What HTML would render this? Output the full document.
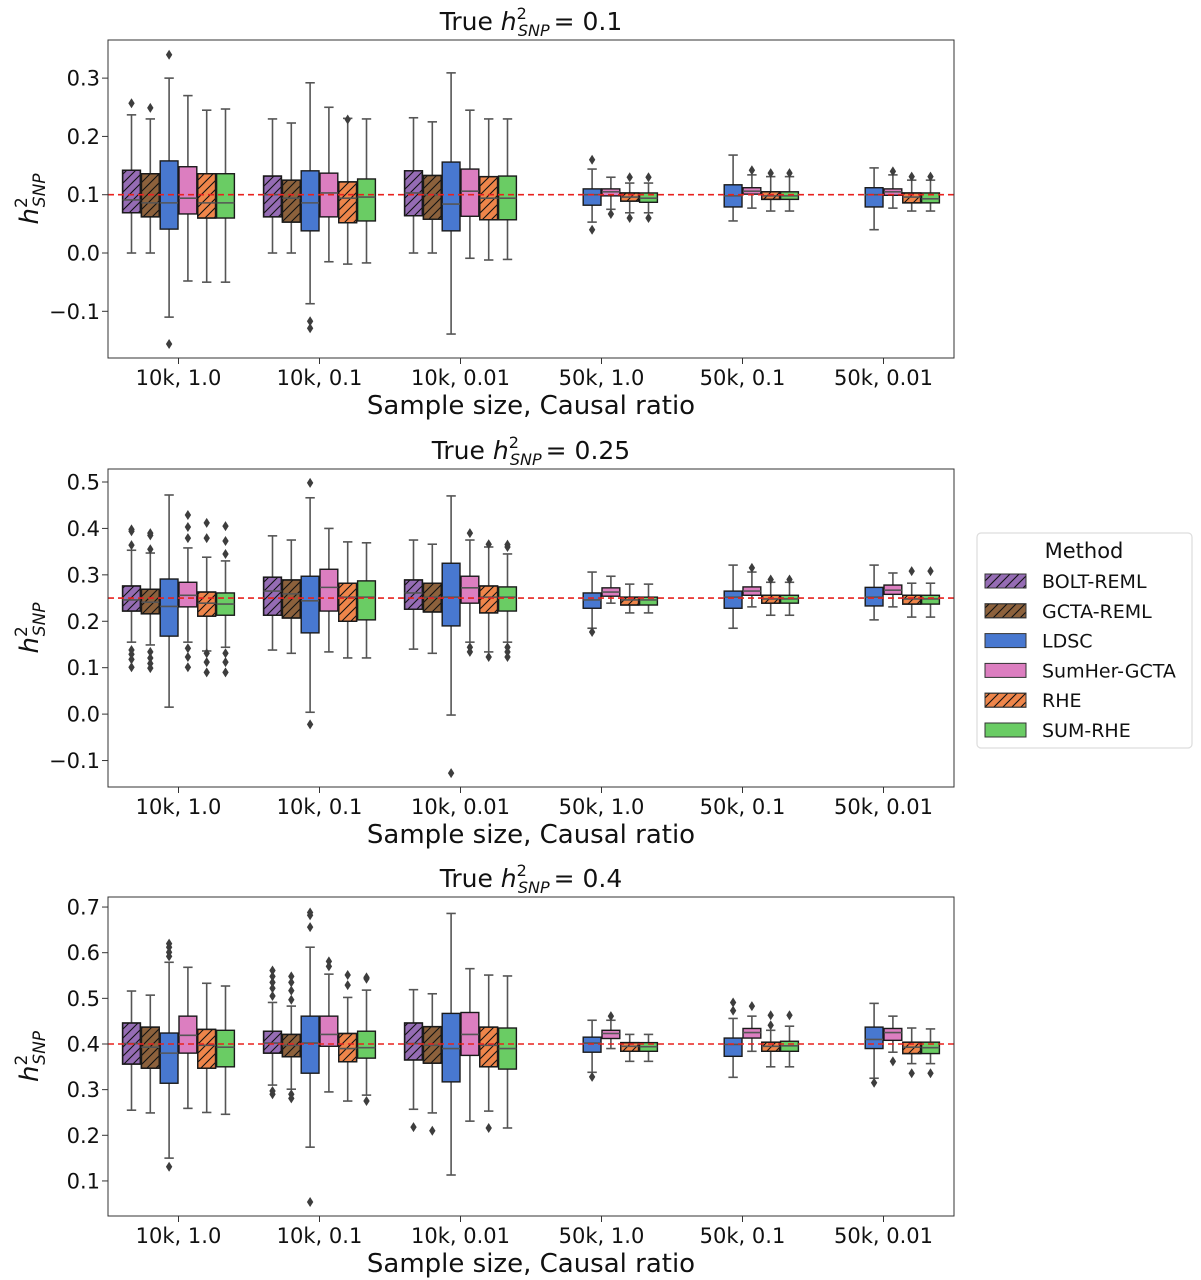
<!DOCTYPE html>
<html><head><meta charset="utf-8">
<style>
body{margin:0;background:#fff;}
svg{display:block;font-family:"DejaVu Sans","Liberation Sans",sans-serif;}
</style></head>
<body>
<svg id="chart" width="1201" height="1280" viewBox="0 0 1201 1280" xmlns="http://www.w3.org/2000/svg">
<defs>
<pattern id="hatch" patternUnits="userSpaceOnUse" width="9" height="9">
<path d="M-2,2 l4,-4 M0,9 l9,-9 M7,11 l4,-4" stroke="#111" stroke-width="1.1"/>
</pattern>
</defs>
<g id="panels"></g>
<g id="legend"></g>
</svg>
<script>
const categories = ["10k, 1.0","10k, 0.1","10k, 0.01","50k, 1.0","50k, 0.1","50k, 0.01"];
const methods = ["BOLT-REML","GCTA-REML","LDSC","SumHer-GCTA","RHE","SUM-RHE"];
const trueValues = [0.1, 0.25, 0.4];
const ticks1 = [-0.1,0.0,0.1,0.2,0.3];
const ticks2 = [-0.1,0.0,0.1,0.2,0.3,0.4,0.5];
const ticks3 = [0.1,0.2,0.3,0.4,0.5,0.6,0.7];
const tickLabels1 = ["\u22120.1","0.0","0.1","0.2","0.3"];
const tickLabels2 = ["\u22120.1","0.0","0.1","0.2","0.3","0.4","0.5"];
const tickLabels3 = ["0.1","0.2","0.3","0.4","0.5","0.6","0.7"];
const ylim1 = [-0.1801, 0.3654];
const ylim2 = [-0.157, 0.528];
const ylim3 = [0.0232, 0.722];

// stats per group: [whisker-low, q1, median, q3, whisker-high]
const p1_bolt = [[0,0.069,0.091,0.142,0.237],[0,0.062,0.1,0.132,0.23],[0,0.064,0.103,0.141,0.232],null,null,null];
const p1_gcta = [[0,0.062,0.086,0.136,0.23],[0,0.053,0.094,0.125,0.223],[0,0.058,0.1,0.133,0.225],null,null,null];
const p1_ldsc = [[-0.11,0.041,0.086,0.158,0.30],[-0.087,0.038,0.086,0.141,0.292],[-0.139,0.038,0.084,0.156,0.309],[0.053,0.082,0.1,0.11,0.144],[0.055,0.079,0.098,0.117,0.168],[0.04,0.079,0.1,0.112,0.146]];
const p1_sumher = [[-0.048,0.067,0.094,0.148,0.27],[-0.015,0.062,0.103,0.137,0.25],[-0.009,0.063,0.106,0.144,0.245],[0.075,0.098,0.105,0.11,0.13],[0.077,0.101,0.106,0.112,0.134],[0.077,0.099,0.105,0.11,0.134]];
const p1_rhe = [[-0.05,0.06,0.086,0.136,0.245],[-0.019,0.052,0.094,0.122,0.231],[-0.012,0.057,0.094,0.131,0.23],[0.069,0.089,0.096,0.103,0.12],[0.072,0.092,0.098,0.105,0.131],[0.072,0.086,0.096,0.103,0.125]];
const p1_sumrhe = [[-0.05,0.06,0.086,0.136,0.247],[-0.017,0.055,0.096,0.127,0.23],[-0.011,0.057,0.094,0.132,0.23],[0.069,0.087,0.094,0.103,0.12],[0.072,0.092,0.098,0.105,0.131],[0.072,0.086,0.093,0.103,0.125]];
const p1_out_bolt = [[0.257],[],[],[],[],[]];
const p1_out_gcta = [[0.249],[],[],[],[],[]];
const p1_out_ldsc = [[0.34,-0.156],[-0.117,-0.129],[],[0.16,0.04],[],[]];
const p1_out_sumher = [[],[],[],[0.067],[0.142],[0.14]];
const p1_out_rhe = [[],[0.229],[],[0.13,0.06],[0.137],[0.131]];
const p1_out_sumrhe = [[],[],[],[0.13,0.06],[0.137],[0.131]];

const p2_bolt = [[0.155,0.222,0.246,0.276,0.353],[0.138,0.213,0.265,0.295,0.384],[0.14,0.226,0.261,0.289,0.375],null,null,null];
const p2_gcta = [[0.149,0.216,0.241,0.269,0.347],[0.131,0.207,0.259,0.289,0.375],[0.131,0.22,0.252,0.282,0.366],null,null,null];
const p2_ldsc = [[0.015,0.168,0.232,0.291,0.472],[0.004,0.175,0.244,0.297,0.466],[-0.002,0.19,0.252,0.325,0.47],[0.185,0.228,0.246,0.261,0.306],[0.185,0.228,0.252,0.265,0.321],[0.203,0.233,0.252,0.273,0.321]];
const p2_sumher = [[0.155,0.231,0.256,0.284,0.358],[0.134,0.222,0.273,0.312,0.4],[0.155,0.239,0.272,0.297,0.375],[0.239,0.254,0.263,0.272,0.297],[0.231,0.256,0.265,0.274,0.306],[0.231,0.258,0.267,0.278,0.304]];
const p2_rhe = [[0.136,0.211,0.239,0.263,0.338],[0.121,0.2,0.252,0.282,0.371],[0.134,0.218,0.252,0.276,0.36],[0.218,0.235,0.246,0.252,0.28],[0.213,0.239,0.248,0.256,0.284],[0.209,0.237,0.248,0.256,0.282]];
const p2_sumrhe = [[0.144,0.213,0.237,0.261,0.33],[0.121,0.203,0.252,0.287,0.369],[0.155,0.222,0.252,0.274,0.345],[0.218,0.235,0.246,0.252,0.28],[0.213,0.239,0.248,0.256,0.284],[0.209,0.237,0.248,0.256,0.282]];
const p2_out_bolt = [[0.398,0.394,0.364,0.138,0.129,0.118,0.101],[],[],[],[],[]];
const p2_out_gcta = [[0.39,0.385,0.355,0.134,0.121,0.109,0.099],[],[],[],[],[]];
const p2_out_ldsc = [[],[0.498,-0.022],[-0.127],[0.177],[],[]];
const p2_out_sumher = [[0.429,0.403,0.379,0.142,0.123,0.101],[],[0.39,0.144,0.134],[],[0.315],[]];
const p2_out_rhe = [[0.412,0.379,0.131,0.112,0.09],[],[0.366,0.123],[],[0.29],[0.308]];
const p2_out_sumrhe = [[0.405,0.373,0.345,0.131,0.112,0.09],[],[0.365,0.36,0.144,0.134,0.123],[],[0.29],[0.308]];

const p3_bolt = [[0.255,0.356,0.401,0.446,0.516],[0.31,0.38,0.402,0.428,0.491],[0.257,0.365,0.401,0.446,0.519],null,null,null];
const p3_gcta = [[0.249,0.347,0.393,0.437,0.507],[0.301,0.372,0.397,0.421,0.483],[0.249,0.358,0.397,0.438,0.51],null,null,null];
const p3_ldsc = [[0.15,0.314,0.38,0.424,0.579],[0.174,0.336,0.402,0.461,0.612],[0.113,0.317,0.39,0.467,0.686],[0.338,0.382,0.402,0.415,0.452],[0.327,0.373,0.399,0.413,0.456],[0.325,0.39,0.41,0.437,0.489]];
const p3_sumher = [[0.259,0.38,0.419,0.461,0.568],[0.295,0.395,0.421,0.461,0.553],[0.231,0.375,0.421,0.469,0.565],[0.39,0.412,0.423,0.43,0.452],[0.384,0.413,0.425,0.434,0.461],[0.382,0.408,0.425,0.434,0.461]];
const p3_rhe = [[0.25,0.347,0.397,0.432,0.533],[0.275,0.361,0.39,0.423,0.502],[0.253,0.35,0.397,0.437,0.551],[0.362,0.384,0.395,0.403,0.421],[0.35,0.384,0.395,0.404,0.43],[0.357,0.379,0.393,0.404,0.435]];
const p3_sumrhe = [[0.246,0.35,0.393,0.43,0.527],[0.288,0.369,0.392,0.428,0.518],[0.216,0.345,0.39,0.435,0.549],[0.362,0.384,0.394,0.403,0.421],[0.35,0.384,0.396,0.406,0.439],[0.357,0.379,0.392,0.404,0.433]];
const p3_out_bolt = [[],[0.561,0.548,0.535,0.522,0.505,0.297,0.29],[0.218],[],[],[]];
const p3_out_gcta = [[],[0.548,0.535,0.517,0.497,0.29,0.281],[0.21],[],[],[]];
const p3_out_ldsc = [[0.62,0.612,0.601,0.592,0.131],[0.688,0.682,0.656,0.054],[],[0.328],[0.491,0.473],[0.315]];
const p3_out_sumher = [[],[0.581,0.57],[],[0.461],[0.483],[0.362]];
const p3_out_rhe = [[],[0.551,0.529],[0.216],[],[0.463,0.441],[0.336]];
const p3_out_sumrhe = [[],[0.546,0.543,0.275],[],[],[0.463],[0.336]];

const colors = ["#956cb4","#8c613c","#4878d0","#dc7ec0","#ee854a","#6acc64"];
const hatched = [true,true,false,false,true,false];
const slugs = ["bolt-reml","gcta-reml","ldsc","sumher-gcta","rhe","sum-rhe"];

const NS = "http://www.w3.org/2000/svg";
function mk(tag, attrs, parent){
  const e = document.createElementNS(NS, tag);
  for (const k in attrs) e.setAttribute(k, attrs[k]);
  parent.appendChild(e);
  return e;
}
const L = 108, R = 954;
const panelsDef = [
  {top:40, bottom:358, ylim:ylim1, ticks:ticks1, labels:tickLabels1, stats:[p1_bolt,p1_gcta,p1_ldsc,p1_sumher,p1_rhe,p1_sumrhe], outs:[p1_out_bolt,p1_out_gcta,p1_out_ldsc,p1_out_sumher,p1_out_rhe,p1_out_sumrhe], title:"0.1"},
  {top:469, bottom:787, ylim:ylim2, ticks:ticks2, labels:tickLabels2, stats:[p2_bolt,p2_gcta,p2_ldsc,p2_sumher,p2_rhe,p2_sumrhe], outs:[p2_out_bolt,p2_out_gcta,p2_out_ldsc,p2_out_sumher,p2_out_rhe,p2_out_sumrhe], title:"0.25"},
  {top:897, bottom:1216, ylim:ylim3, ticks:ticks3, labels:tickLabels3, stats:[p3_bolt,p3_gcta,p3_ldsc,p3_sumher,p3_rhe,p3_sumrhe], outs:[p3_out_bolt,p3_out_gcta,p3_out_ldsc,p3_out_sumher,p3_out_rhe,p3_out_sumrhe], title:"0.4"}
];
const root = document.getElementById('panels');
const gw = (R - L) / categories.length;
const bw = gw * 0.8 / methods.length;
function xCenter(g, m){ return L + gw*(g+0.5) - gw*0.4 + bw*(m+0.5); }

panelsDef.forEach((p, pi) => {
  const y = v => p.bottom - (v - p.ylim[0]) / (p.ylim[1] - p.ylim[0]) * (p.bottom - p.top);
  const g = mk('g', {}, root);
  
  
  const t = mk('text', {x: 531, y: p.top - 10, 'text-anchor':'middle', 'font-size':'25', fill:'#111'}, g);
  
  
  t.innerHTML = 'True <tspan font-style="italic">h</tspan><tspan font-size="16" dy="-11">2</tspan><tspan font-size="16" font-style="italic" dx="-9" dy="17">SNP</tspan><tspan dy="-6" dx="4">= ' + p.title + '</tspan>';
  p.ticks.forEach((v, i) => {
    const yy = y(v);
    mk('line', {x1:L-6, x2:L, y1:yy, y2:yy, stroke:'#333', 'stroke-width':1}, g);
    const tl = mk('text', {x:L-8, y:yy+7.5, 'text-anchor':'end', 'font-size':'21', fill:'#111'}, g);
    
    
    tl.textContent = p.labels[i];
  });
  const yl = mk('text', {transform:'translate(38,'+((p.top+p.bottom)/2)+') rotate(-90)', 'text-anchor':'middle', 'font-size':'26', fill:'#111'}, g);
  
  
  yl.innerHTML = '<tspan font-style="italic">h</tspan><tspan font-size="17" dy="-11">2</tspan><tspan font-size="17" font-style="italic" dx="-10" dy="18">SNP</tspan>';
  categories.forEach((c, gi) => {
    const xx = L + gw*(gi+0.5);
    mk('line', {x1:xx, x2:xx, y1:p.bottom, y2:p.bottom+6, stroke:'#333', 'stroke-width':1}, g);
    const xl = mk('text', {x:xx, y:p.bottom+27, 'text-anchor':'middle', 'font-size':'21', fill:'#111'}, g);
    
    
    xl.textContent = c;
  });
  const xt = mk('text', {x:531, y:p.bottom+56, 'text-anchor':'middle', 'font-size':'26', fill:'#111'}, g);
  
  
  xt.textContent = 'Sample size, Causal ratio';
  methods.forEach((m, mi) => {
    p.stats[mi].forEach((s, gi) => {
      if (!s) return;
      const cx = xCenter(gi, mi);
      const bg = mk('g', {}, g);
      
      
      const wc = '#555';
      mk('line', {x1:cx, x2:cx, y1:y(s[0]), y2:y(s[1]), stroke:wc, 'stroke-width':1.6}, bg);
      mk('line', {x1:cx, x2:cx, y1:y(s[3]), y2:y(s[4]), stroke:wc, 'stroke-width':1.6}, bg);
      mk('line', {x1:cx-bw/4, x2:cx+bw/4, y1:y(s[0]), y2:y(s[0]), stroke:wc, 'stroke-width':1.6}, bg);
      mk('line', {x1:cx-bw/4, x2:cx+bw/4, y1:y(s[4]), y2:y(s[4]), stroke:wc, 'stroke-width':1.6}, bg);
      const bx = cx - bw/2 + 0.5, bwid = bw - 1;
      mk('rect', {x:bx, y:y(s[3]), width:bwid, height:y(s[1])-y(s[3]), fill:colors[mi], stroke:'#1a1a1a', 'stroke-width':1.4}, bg);
      if (hatched[mi]) mk('rect', {x:bx, y:y(s[3]), width:bwid, height:y(s[1])-y(s[3]), fill:'url(#hatch)', stroke:'#1a1a1a', 'stroke-width':1.4}, bg);
      mk('line', {x1:bx, x2:bx+bwid, y1:y(s[2]), y2:y(s[2]), stroke:'#555', 'stroke-width':1.6}, bg);
      p.outs[mi][gi].forEach(v => {
        const yy = y(v);
        const d = mk('path', {d:'M'+cx+','+(yy-5)+' L'+(cx+3.2)+','+yy+' L'+cx+','+(yy+5)+' L'+(cx-3.2)+','+yy+'Z', fill:'#3d3d3d'}, bg);
        
        
      });
    });
  });
  const rl = mk('line', {x1:L, x2:R, y1:y(trueValues[pi]), y2:y(trueValues[pi]), stroke:'#e8221f', 'stroke-width':1.6, 'stroke-dasharray':'6,4'}, g);
  
  
  const fr = mk('rect', {x:L, y:p.top, width:R-L, height:p.bottom-p.top, fill:'none', stroke:'#333', 'stroke-width':1}, g);
  
  
});

const lg = document.getElementById('legend');
mk('rect', {x:977, y:533, width:215, height:215, rx:4, fill:'#fff', stroke:'#ddd', 'stroke-width':1.2}, lg);
const lt = mk('text', {x:1084, y:558, 'text-anchor':'middle', 'font-size':'21', fill:'#111'}, lg);


lt.textContent = 'Method';
methods.forEach((m, mi) => {
  const yy = 581 + mi*29.8;
  const e = mk('g', {}, lg);
  
  
  mk('rect', {x:985, y:yy-7, width:41, height:14, fill:colors[mi], stroke:'#333', 'stroke-width':1}, e);
  if (hatched[mi]) mk('rect', {x:985, y:yy-7, width:41, height:14, fill:'url(#hatch)', stroke:'#333', 'stroke-width':1}, e);
  const tx = mk('text', {x:1042, y:yy+7, 'font-size':'19', fill:'#111'}, e);
  tx.textContent = m;
});
</script>
</body></html>
